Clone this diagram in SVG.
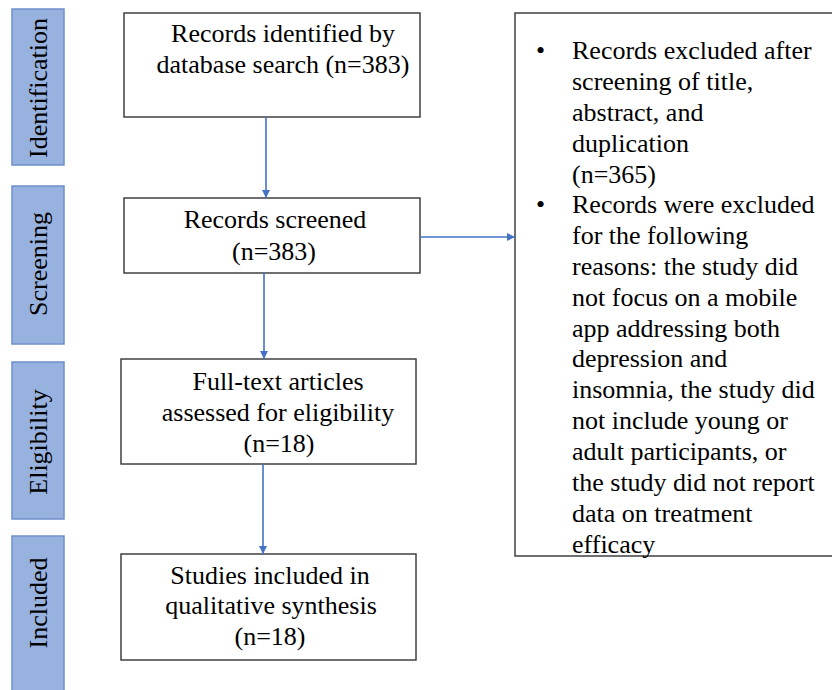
<svg xmlns="http://www.w3.org/2000/svg" width="832" height="690" viewBox="0 0 832 690">
<defs>
<style>
.stage{fill:#98b2e0;stroke:#6f8fcb;stroke-width:1.5}
.box{fill:#fff;stroke:#404040;stroke-width:1.5}
.t{font-family:'Liberation Serif','Times New Roman',Times,'DejaVu Serif',serif;font-size:26px;fill:#000}
.c{text-anchor:middle}
.conn{stroke:#4472c4;stroke-width:1.6;fill:none;marker-end:url(#ah)}
</style>
<marker id="ah" viewBox="0 0 10 10" refX="10" refY="5" markerWidth="8" markerHeight="8" orient="auto" markerUnits="userSpaceOnUse">
<path d="M0,0 L10,5 L0,10 z" fill="#4472c4"/>
</marker>
</defs>
<rect width="832" height="690" fill="#fff"/>
<g font-family="Liberation Serif, Times New Roman, serif" font-size="26">
<g id="stage-identification">
<rect class="stage" x="12" y="9" width="52" height="156"/>
<text class="t c" transform="translate(47,88) rotate(-90)">Identification</text>
</g>
<g id="stage-screening">
<rect class="stage" x="12" y="186" width="52" height="158"/>
<text class="t c" transform="translate(47,264) rotate(-90)">Screening</text>
</g>
<g id="stage-eligibility">
<rect class="stage" x="12" y="362" width="52" height="157"/>
<text class="t c" transform="translate(47,442) rotate(-90)">Eligibility</text>
</g>
<g id="stage-included">
<rect class="stage" x="12" y="536" width="52" height="160"/>
<text class="t c" transform="translate(47,603) rotate(-90)">Included</text>
</g>
<g id="identified">
<rect class="box" x="124" y="13" width="296" height="104"/>
<text class="t c" x="283" y="42">Records identified by</text>
<text class="t c" x="283" y="73">database search (n=383)</text>
</g>
<g id="screened">
<rect class="box" x="124" y="198" width="296" height="75"/>
<text class="t c" x="275" y="228">Records screened</text>
<text class="t c" x="274" y="260">(n=383)</text>
</g>
<g id="fulltext">
<rect class="box" x="121" y="359" width="295" height="105"/>
<text class="t c" x="278" y="390">Full-text articles</text>
<text class="t c" x="278" y="421">assessed for eligibility</text>
<text class="t c" x="279" y="452">(n=18)</text>
</g>
<g id="included">
<rect class="box" x="121" y="554" width="295" height="106"/>
<text class="t c" x="270" y="584">Studies included in</text>
<text class="t c" x="271" y="614">qualitative synthesis</text>
<text class="t c" x="270" y="645">(n=18)</text>
</g>
<g id="excluded">
<rect class="box" x="515" y="13" width="330" height="543"/>
<text class="t" x="536" y="59">•</text>
<text class="t" x="572" y="59">Records excluded after</text>
<text class="t" x="572" y="90">screening of title,</text>
<text class="t" x="572" y="121">abstract, and</text>
<text class="t" x="572" y="152">duplication</text>
<text class="t" x="572" y="183">(n=365)</text>
<text class="t" x="536" y="213">•</text>
<text class="t" x="572" y="213">Records were excluded</text>
<text class="t" x="572" y="244">for the following</text>
<text class="t" x="572" y="275">reasons: the study did</text>
<text class="t" x="572" y="306">not focus on a mobile</text>
<text class="t" x="572" y="337">app addressing both</text>
<text class="t" x="572" y="367">depression and</text>
<text class="t" x="572" y="398">insomnia, the study did</text>
<text class="t" x="572" y="429">not include young or</text>
<text class="t" x="572" y="460">adult participants, or</text>
<text class="t" x="572" y="491">the study did not report</text>
<text class="t" x="572" y="522">data on treatment</text>
<text class="t" x="572" y="553">efficacy</text>
</g>
</g>
<g id="connectors">
<line class="conn" x1="266" y1="117" x2="266" y2="198"/>
<line class="conn" x1="264" y1="273" x2="264" y2="359"/>
<line class="conn" x1="263" y1="464" x2="263" y2="554"/>
<line class="conn" x1="420" y1="237" x2="515" y2="237"/>
</g>
</svg>
